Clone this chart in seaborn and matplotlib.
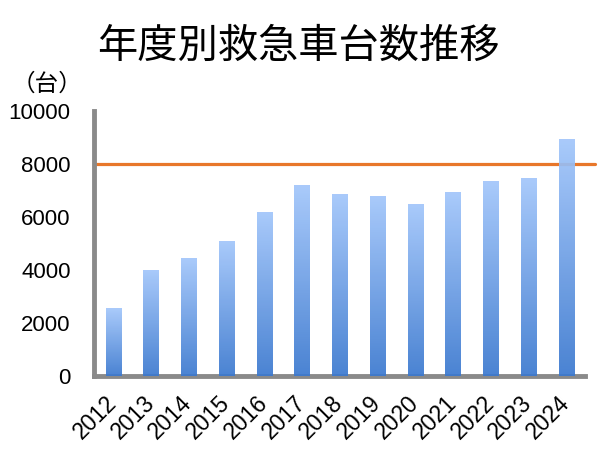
import numpy as np
import pandas as pd
import matplotlib
matplotlib.use('Agg')
import matplotlib.pyplot as plt
import seaborn as sns
from matplotlib.colors import LinearSegmentedColormap

# data
years = ['2012', '2013', '2014', '2015', '2016', '2017', '2018',
         '2019', '2020', '2021', '2022', '2023', '2024']
counts = [2550, 4000, 4450, 5100, 6200, 7200, 6870,
          6800, 6500, 6930, 7340, 7470, 8950]
reference_level = 8000
y_ticks = [0, 2000, 4000, 6000, 8000, 10000]

title_text = '年度別救急車台数推移'
unit_text = '（台）'

sns.set_theme(style='white')
plt.rcParams['font.family'] = ['Liberation Sans', 'Noto Sans CJK JP', 'DejaVu Sans']

df = pd.DataFrame({'year': years, 'count': counts})

fig = plt.figure(figsize=(6.0, 4.53), dpi=100)
ax = fig.add_axes([0.157, 0.170, 0.818, 0.585])

sns.barplot(data=df, x='year', y='count', ax=ax, width=0.4,
            color='#6a9ee6', saturation=1, zorder=3)

# vertical gradient on every bar
grad_cmap = LinearSegmentedColormap.from_list('bar_grad', ['#3a78cf', '#a2c6fb'])
gradient = np.linspace(0, 1, 256).reshape(-1, 1)
for patch in ax.patches:
    x0, y0 = patch.get_x(), patch.get_y()
    w, h = patch.get_width(), patch.get_height()
    patch.set_facecolor('none')
    patch.set_edgecolor('none')
    im = ax.imshow(gradient, cmap=grad_cmap, origin='lower', aspect='auto',
                   extent=(x0, x0 + w, y0, y0 + h), zorder=3, alpha=0.92)
    im.set_clip_path(patch)

ax.axhline(reference_level, xmin=0.0, xmax=1.02, color='#e8772a',
           linewidth=2.3, zorder=2, clip_on=False)

ax.set_xlim(-0.5, 12.5)
ax.set_ylim(0, 10000)
ax.set_yticks(y_ticks)
ax.set_xlabel('')
ax.set_ylabel('')

sns.despine(ax=ax)
for side in ['left', 'bottom']:
    ax.spines[side].set_color('#8a8a8a')
    ax.spines[side].set_linewidth(3.5)

ax.tick_params(axis='y', length=0, pad=17, labelsize=16, colors='black')
ax.tick_params(axis='x', length=0, pad=17, labelsize=16.5, colors='black')
for lbl in ax.get_xticklabels():
    lbl.set_rotation(45)
    lbl.set_ha('right')
    lbl.set_va('center')
    lbl.set_rotation_mode('anchor')

fig.text(0.497, 0.897, title_text, ha='center', va='center', fontsize=29,
         family=['Noto Sans CJK JP', 'DejaVu Sans'], color='black')
fig.text(0.078, 0.815, unit_text, ha='center', va='center', fontsize=17,
         family=['Noto Sans CJK JP', 'DejaVu Sans'], color='black')

fig.savefig('out.png', dpi=100)
